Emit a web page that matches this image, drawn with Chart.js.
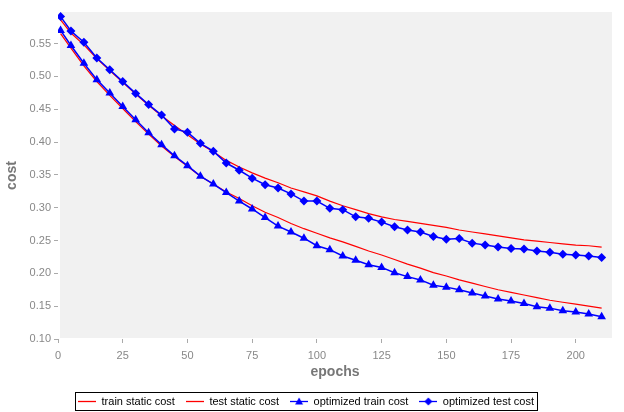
<!DOCTYPE html>
<html><head><meta charset="utf-8">
<script src="https://cdn.jsdelivr.net/npm/chart.js@4"></script>
<style>html,body{margin:0;padding:0;background:#fff;overflow:hidden}</style>
</head><body>
<canvas id="c" width="624" height="412"></canvas>
<script>
const epochs = [1,5,10,15,20,25,30,35,40,45,50,55,60,65,70,75,80,85,90,95,100,105,110,115,120,125,130,135,140,145,150,155,160,165,170,175,180,185,190,195,200,205,210];
const trainStatic = [0.565,0.543,0.516,0.492,0.471,0.451,0.431,0.412,0.394,0.378,0.363,0.348,0.336,0.324,0.314,0.303,0.293,0.285,0.276,0.268,0.261,0.254,0.248,0.241,0.234,0.228,0.221,0.214,0.208,0.201,0.196,0.190,0.185,0.180,0.175,0.171,0.167,0.163,0.159,0.156,0.153,0.150,0.147];
const testStatic = [0.586,0.566,0.548,0.527,0.509,0.491,0.473,0.456,0.440,0.425,0.411,0.397,0.385,0.372,0.362,0.353,0.345,0.338,0.330,0.324,0.318,0.310,0.303,0.297,0.291,0.286,0.282,0.279,0.276,0.273,0.270,0.266,0.263,0.260,0.257,0.254,0.251,0.249,0.247,0.245,0.243,0.242,0.240];
const optTrain = [0.570,0.547,0.520,0.495,0.4745,0.454,0.434,0.414,0.396,0.379,0.364,0.348,0.336,0.323,0.310,0.298,0.285,0.272,0.263,0.2535,0.242,0.236,0.2265,0.220,0.213,0.209,0.201,0.195,0.190,0.182,0.179,0.175,0.170,0.1655,0.161,0.158,0.154,0.149,0.147,0.143,0.141,0.138,0.134];
const optTest = [0.591,0.569,0.552,0.528,0.510,0.492,0.474,0.457,0.441,0.420,0.415,0.398,0.386,0.368,0.357,0.345,0.335,0.330,0.321,0.310,0.310,0.299,0.297,0.286,0.284,0.278,0.271,0.266,0.263,0.256,0.252,0.253,0.246,0.243,0.240,0.238,0.237,0.234,0.232,0.229,0.228,0.2265,0.224];
const seriesNames = ["train static cost","test static cost","optimized train cost","optimized test cost"];
const xTicks = [0,25,50,75,100,125,150,175,200];
const yTicks = [0.10,0.15,0.20,0.25,0.30,0.35,0.40,0.45,0.50,0.55];

const RED = '#ff0000', BLUE = '#0000ff';
const FONT = "'Liberation Sans', Arial, sans-serif";
const toXY = arr => arr.map((v,i)=>({x:epochs[i], y:v}));

function sample(color, marker){
  const c = document.createElement('canvas');
  c.width = 18; c.height = 11;
  const g = c.getContext('2d');
  g.strokeStyle = color; g.lineWidth = 1.3;
  g.beginPath(); g.moveTo(0,5.5); g.lineTo(18,5.5); g.stroke();
  g.fillStyle = color;
  if (marker === 'tri'){
    g.beginPath(); g.moveTo(9,1.5); g.lineTo(13,8.5); g.lineTo(5,8.5); g.closePath(); g.fill();
  } else if (marker === 'dia'){
    g.beginPath(); g.moveTo(9,1.5); g.lineTo(13,5.5); g.lineTo(9,9.5); g.lineTo(5,5.5); g.closePath(); g.fill();
  }
  return c;
}
const samples = [sample(RED), sample(RED), sample(BLUE,'tri'), sample(BLUE,'dia')];

const bgPlugin = {
  id:'bg',
  beforeDraw(chart){
    const {ctx, chartArea:a} = chart;
    ctx.save(); ctx.fillStyle = '#f1f1f1';
    ctx.fillRect(a.left+2, a.top, a.right-a.left-2, a.bottom-a.top-1);
    ctx.restore();
  }
};
const legendBox = {
  id:'legendBox',
  afterDraw(chart){
    const b = chart.legend.legendHitBoxes; if (!b || !b.length) return;
    const l = Math.min(...b.map(h=>h.left)), r = Math.max(...b.map(h=>h.left+h.width));
    const t = Math.min(...b.map(h=>h.top)), bt = Math.max(...b.map(h=>h.top+h.height));
    const ctx = chart.ctx; ctx.save(); ctx.strokeStyle = '#000'; ctx.lineWidth = 1;
    ctx.strokeRect(Math.round(l-3)+0.5, Math.round(t-4)+0.5, Math.round(r-l+6), Math.round(bt-t+7));
    ctx.restore();
  }
};

new Chart(document.getElementById('c'), {
  type:'line',
  data:{
    datasets:[
      {label:seriesNames[0], data:toXY(trainStatic), borderColor:RED, borderWidth:1.2, pointRadius:0, tension:0, order:3},
      {label:seriesNames[1], data:toXY(testStatic), borderColor:RED, borderWidth:1.2, pointRadius:0, tension:0, order:4},
      {label:seriesNames[2], data:toXY(optTrain), borderColor:BLUE, backgroundColor:BLUE, borderWidth:1.5, pointStyle:'triangle', pointRadius:5, pointBorderWidth:0, tension:0, order:1},
      {label:seriesNames[3], data:toXY(optTest), borderColor:BLUE, backgroundColor:BLUE, borderWidth:1.5, pointStyle:'rectRot', pointRadius:4.5, pointBorderWidth:0, tension:0, order:2}
    ]
  },
  options:{
    responsive:false, animation:false, devicePixelRatio:1,
    layout:{padding:{top:12,right:12,left:0,bottom:0}},
    plugins:{
      tooltip:{enabled:false},
      legend:{
        position:'bottom', maxHeight:27,
        labels:{
          usePointStyle:true, pointStyleWidth:18, padding:11,
          font:{family:FONT, size:11}, color:'#000',
          generateLabels(chart){
            return chart.data.datasets.map((d,i)=>({text:d.label, pointStyle:samples[i], fillStyle:d.borderColor, strokeStyle:d.borderColor, lineWidth:0, datasetIndex:i, hidden:false}));
          }
        }
      }
    },
    scales:{
      x:{
        type:'linear', min:0, max:214,
        afterBuildTicks(s){ s.ticks = xTicks.map(v=>({value:v})); },
        afterFit(s){ s.height = 46; },
        ticks:{font:{family:FONT, size:11}, color:'#888', padding:6, maxRotation:0},
        grid:{drawOnChartArea:false, drawTicks:true, tickLength:4, color:'#aaa'},
        border:{display:false},
        title:{display:true, text:'epochs', color:'#777', font:{family:FONT, size:14, weight:'bold'}, padding:{top:0,bottom:4}}
      },
      y:{
        min:0.10, max:0.598,
        afterBuildTicks(s){ s.ticks = yTicks.map(v=>({value:v})); },
        afterFit(s){ s.width = 58; },
        ticks:{font:{family:FONT, size:11}, color:'#888', padding:3, callback:v=>v.toFixed(2)},
        grid:{drawOnChartArea:false, drawTicks:true, tickLength:4, color:'#aaa'},
        border:{display:false},
        title:{display:true, text:'cost', color:'#777', font:{family:FONT, size:14, weight:'bold'}, padding:{top:4,bottom:0}}
      }
    }
  },
  plugins:[bgPlugin, legendBox]
});
</script>
</body></html>
